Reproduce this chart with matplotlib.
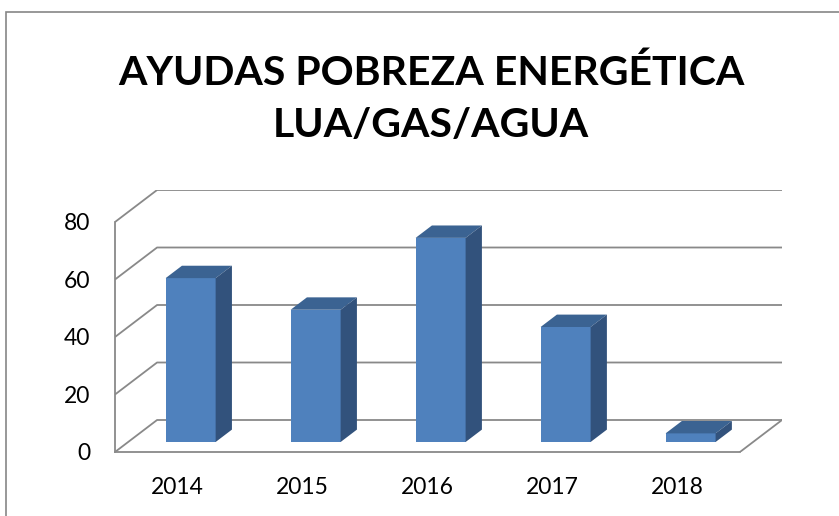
import matplotlib.pyplot as plt
from matplotlib.patches import Polygon, Rectangle

# Datos
anios = ["2014", "2015", "2016", "2017", "2018"]
ayudas = [57, 46, 71, 40, 3]
ticks_y = [0, 20, 40, 60, 80]
titulo = "AYUDAS POBREZA ENERGÉTICA\nLUA/GAS/AGUA"

plt.rcParams["font.family"] = ["Lato", "DejaVu Sans"]

# Desplazamiento de la profundidad (efecto 3D) en unidades de datos
DX = 0.3365
DY = 11.13
GRIS = "#898989"
FRENTE = "#4F81BD"
ARRIBA = "#3B6392"
LADO = "#32527C"

fig = plt.figure(figsize=(8.39, 5.16), dpi=100)
fig.patches.append(Rectangle((6 / 839, -0.05), 1.2, 1 - 12 / 516 + 0.05,
                             transform=fig.transFigure, fill=False,
                             edgecolor="#868686", linewidth=1.2))

ax = fig.add_axes([115 / 839, 64 / 516, 667 / 839, 262 / 516])
n = len(anios)
ax.set_xlim(0, n + DX)
ax.set_ylim(0, ticks_y[-1] + DY)

# Paredes: diagonales y líneas de la cuadrícula del fondo
for v in ticks_y:
    ax.plot([0, DX, n + DX], [v, v + DY, v + DY], color=GRIS, lw=1.3,
            solid_capstyle="butt", zorder=1)
ax.plot([n, n + DX], [0, DY], color=GRIS, lw=1.3, zorder=1)

# Barras 3D
d0, d1 = 0.3125, 0.70
dd = d1 - d0
w = 0.40
for i, v in enumerate(ayudas):
    x0 = i + 0.5 - w / 2 + d0 * DX
    y0 = d0 * DY
    ax.add_patch(Polygon([(x0, y0), (x0 + w, y0), (x0 + w, y0 + v), (x0, y0 + v)],
                         closed=True, facecolor=FRENTE, edgecolor="none", zorder=3))
    ax.add_patch(Polygon([(x0, y0 + v), (x0 + w, y0 + v),
                          (x0 + w + dd * DX, y0 + v + dd * DY),
                          (x0 + dd * DX, y0 + v + dd * DY)],
                         closed=True, facecolor=ARRIBA, edgecolor="none", zorder=3))
    ax.add_patch(Polygon([(x0 + w, y0), (x0 + w, y0 + v),
                          (x0 + w + dd * DX, y0 + v + dd * DY),
                          (x0 + w + dd * DX, y0 + dd * DY)],
                         closed=True, facecolor=LADO, edgecolor="none", zorder=3))

# Ejes del plano frontal
for lado in ["top", "right"]:
    ax.spines[lado].set_visible(False)
ax.spines["left"].set_bounds(0, ticks_y[-1])
ax.spines["bottom"].set_bounds(0, n)
for lado in ["left", "bottom"]:
    ax.spines[lado].set_color(GRIS)
    ax.spines[lado].set_linewidth(1.3)
ax.set_yticks(ticks_y)
ax.set_xticks([i + 0.5 for i in range(n)])
ax.set_xticklabels(anios)
ax.tick_params(axis="y", length=0, pad=18, labelsize=16.5)
ax.tick_params(axis="x", length=0, pad=18, labelsize=16.5)
ax.patch.set_alpha(0)

fig.text(431 / 839, 1 - 99 / 516, titulo, ha="center", va="center",
         fontsize=29.5, fontweight="bold", linespacing=1.5)

fig.savefig("out.png", dpi=100)
